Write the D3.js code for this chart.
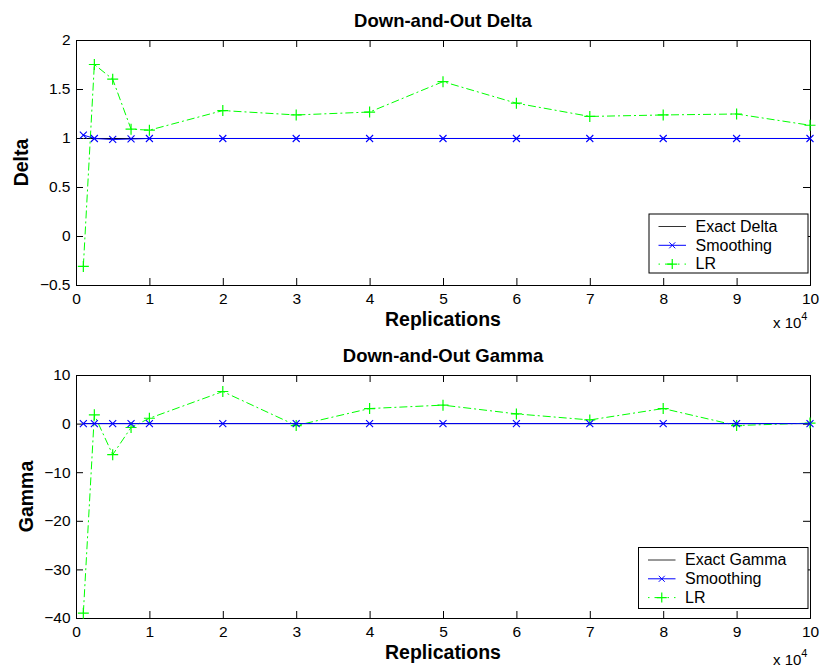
<!DOCTYPE html>
<html>
<head>
<meta charset="utf-8">
<script src="https://cdn.jsdelivr.net/npm/d3@7/dist/d3.min.js"></script>
<style>
  html, body { margin: 0; padding: 0; background: #fff; }
  svg { display: block; }
  text { font-family: "Liberation Sans", Arial, Helvetica, sans-serif; }
</style>
</head>
<body>
<script>
// Replication counts (x axis)
const replications = [1000, 2500, 5000, 7500, 10000, 20000, 30000, 40000, 50000, 60000, 70000, 80000, 90000, 100000];

// Delta estimates
const exactDelta = 0.995;
const smoothingDelta = [1.03, 0.995, 0.985, 0.99, 0.995, 0.995, 0.995, 0.995, 0.995, 0.995, 0.995, 0.995, 0.995, 0.995];
const lrDelta = [-0.31, 1.75, 1.60, 1.09, 1.08, 1.28, 1.235, 1.265, 1.575, 1.355, 1.22, 1.235, 1.245, 1.13];

// Gamma estimates
const exactGamma = 0;
const smoothingGamma = [0, 0, 0, 0, 0, 0, 0, 0, 0, 0, 0, 0, 0, 0];
const lrGamma = [-39, 1.8, -6.4, -0.8, 1.1, 6.6, -0.4, 3.1, 3.8, 2.0, 0.75, 3.1, -0.4, 0.1];

// Axis ticks
const xTicks = [0, 10000, 20000, 30000, 40000, 50000, 60000, 70000, 80000, 90000, 100000];
const deltaTicks = [-0.5, 0, 0.5, 1, 1.5, 2];
const gammaTicks = [-40, -30, -20, -10, 0, 10];

const W = 822, H = 670;
const svg = d3.select("body").append("svg").attr("width", W).attr("height", H);

const BLUE = "#0000ff", GREEN = "#00ff00", BLACK = "#000";
const DASHDOT = "8,3,2,3";
const FONT = '"Liberation Sans", Arial, sans-serif';

function crossPath(s) { return `M${-s},${-s}L${s},${s}M${-s},${s}L${s},${-s}`; }
function plusPath(s) { return `M${-s},0L${s},0M0,${-s}L0,${s}`; }

function panel(cfg) {
  const { top, bottom, yDomain, yTicks, title, ylabel, ylabelX, expY, exact, smooth, lr, legend } = cfg;
  const left = 76, right = 810;
  const x = d3.scaleLinear().domain([0, 100000]).range([left, right]);
  const y = d3.scaleLinear().domain(yDomain).range([bottom, top]);
  const g = svg.append("g");

  const tickLen = 7;
  // bottom axis, ticks pointing inward
  const xb = g.append("g").attr("transform", `translate(0,${bottom})`)
    .call(d3.axisBottom(x).tickValues(xTicks).tickSize(-tickLen).tickPadding(8)
      .tickFormat(d => d3.format("d")(d / 10000)));
  // top axis mirror
  const xt = g.append("g").attr("transform", `translate(0,${top})`)
    .call(d3.axisTop(x).tickValues(xTicks).tickSize(-tickLen).tickFormat(""));
  // left axis
  const yl = g.append("g").attr("transform", `translate(${left},0)`)
    .call(d3.axisLeft(y).tickValues(yTicks).tickSize(-tickLen).tickPadding(5.5)
      .tickFormat(d3.format("")));
  // right axis mirror
  const yr = g.append("g").attr("transform", `translate(${right},0)`)
    .call(d3.axisRight(y).tickValues(yTicks).tickSize(-tickLen).tickFormat(""));

  [xb, xt, yl, yr].forEach(a => {
    a.select(".domain").attr("stroke", BLACK).attr("stroke-width", 1);
    a.selectAll(".tick line").attr("stroke", BLACK).attr("stroke-width", 1);
    a.selectAll(".tick text").attr("font-size", 15.5).attr("fill", BLACK)
      .attr("font-family", FONT);
  });

  // exact value line
  g.append("line")
    .attr("x1", x(replications[0])).attr("x2", x(replications[replications.length - 1]))
    .attr("y1", y(exact)).attr("y2", y(exact))
    .attr("stroke", BLACK).attr("stroke-width", 1);

  const line = d3.line().x((d, i) => x(replications[i])).y(d => y(d));

  // LR estimator
  g.append("path").datum(lr).attr("d", line)
    .attr("fill", "none").attr("stroke", GREEN).attr("stroke-width", 1)
    .attr("stroke-dasharray", DASHDOT);
  g.selectAll(".lrm").data(lr).enter().append("path")
    .attr("transform", (d, i) => `translate(${x(replications[i])},${y(d)})`)
    .attr("d", plusPath(5.5)).attr("stroke", GREEN).attr("stroke-width", 1.2).attr("fill", "none");

  // Smoothing estimator
  g.append("path").datum(smooth).attr("d", line)
    .attr("fill", "none").attr("stroke", BLUE).attr("stroke-width", 1);
  g.selectAll(".smm").data(smooth).enter().append("path")
    .attr("transform", (d, i) => `translate(${x(replications[i])},${y(d)})`)
    .attr("d", crossPath(3.5)).attr("stroke", BLUE).attr("stroke-width", 1.1).attr("fill", "none");

  // title
  g.append("text").attr("x", (left + right) / 2).attr("y", top - 13)
    .attr("text-anchor", "middle").attr("font-size", 18.5).attr("font-weight", "bold")
    .text(title);
  // y label
  g.append("text").attr("transform", `translate(${ylabelX},${(top + bottom) / 2}) rotate(-90)`)
    .attr("text-anchor", "middle").attr("font-size", 19.5).attr("font-weight", "bold")
    .text(ylabel);
  // x label
  g.append("text").attr("x", (left + right) / 2).attr("y", bottom + 41)
    .attr("text-anchor", "middle").attr("font-size", 19.5).attr("font-weight", "bold")
    .text("Replications");
  // exponent
  const ex = g.append("text").attr("x", 773).attr("y", expY).attr("font-size", 15);
  ex.append("tspan").text("x 10");
  ex.append("tspan").attr("dy", -8).attr("font-size", 11).text("4");

  // legend
  const L = legend;
  g.append("rect").attr("x", L.x).attr("y", L.y).attr("width", L.w).attr("height", L.h)
    .attr("fill", "#fff").attr("stroke", BLACK).attr("stroke-width", 1);
  const items = [
    { label: L.labels[0], color: "#333", dash: null, marker: null },
    { label: L.labels[1], color: BLUE, dash: null, marker: "x" },
    { label: L.labels[2], color: GREEN, dash: DASHDOT, marker: "+" }
  ];
  items.forEach((it, i) => {
    const cy = L.y + 12.5 + i * 18.8;
    const x0 = L.x + 9.5, x1 = L.x + 37;
    g.append("line").attr("x1", x0).attr("x2", x1).attr("y1", cy).attr("y2", cy)
      .attr("stroke", it.color).attr("stroke-width", 1)
      .attr("stroke-dasharray", it.dash ? "1.5,5,8,5" : null);
    if (it.marker === "x") {
      g.append("path").attr("transform", `translate(${(x0 + x1) / 2},${cy})`)
        .attr("d", crossPath(3)).attr("stroke", it.color).attr("fill", "none");
    } else if (it.marker === "+") {
      g.append("path").attr("transform", `translate(${(x0 + x1) / 2},${cy})`)
        .attr("d", plusPath(5)).attr("stroke", it.color).attr("stroke-width", 1.2).attr("fill", "none");
    }
    g.append("text").attr("x", L.x + 46.5).attr("y", cy + 5.3).attr("font-size", 16).text(it.label);
  });
}

panel({
  top: 40, bottom: 285, yDomain: [-0.5, 2], yTicks: deltaTicks,
  title: "Down-and-Out Delta", ylabel: "Delta", ylabelX: 28, expY: 328,
  exact: exactDelta, smooth: smoothingDelta, lr: lrDelta,
  legend: { x: 649, y: 214, w: 159, h: 59, labels: ["Exact Delta", "Smoothing", "LR"] }
});

panel({
  top: 375, bottom: 618, yDomain: [-40, 10], yTicks: gammaTicks,
  title: "Down-and-Out Gamma", ylabel: "Gamma", ylabelX: 33, expY: 665,
  exact: exactGamma, smooth: smoothingGamma, lr: lrGamma,
  legend: { x: 638.5, y: 547.5, w: 169.5, h: 61, labels: ["Exact Gamma", "Smoothing", "LR"] }
});
</script>
</body>
</html>
